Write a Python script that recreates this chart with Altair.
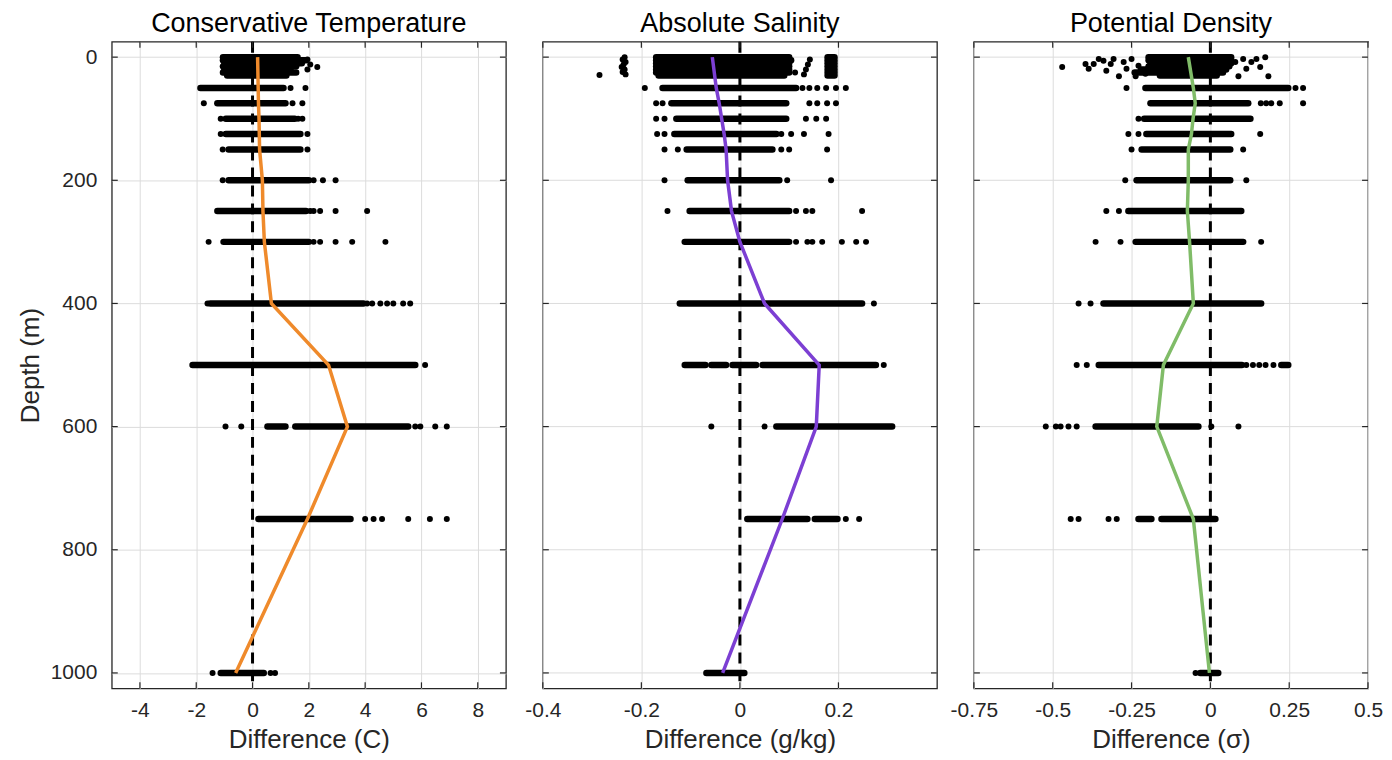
import altair as alt
import pandas as pd

FONT = "Liberation Sans"
TEXT = "#262626"
GRID = "#DCDCDC"
W, H = 395, 648

DEPTH_TICKS = [0, 200, 400, 600, 800, 1000]
DEPTH_DOMAIN = [-25, 1025]
PROFILE_DEPTH = [0, 50, 75, 100, 125, 150, 200, 250, 300, 400, 500, 600, 750, 1000]

# ---------------- Conservative Temperature ----------------
T_TITLE = "Conservative Temperature"
T_XLABEL = "Difference (C)"
T_DOMAIN = [-5, 9]
T_TICKS = [-4, -2, 0, 2, 4, 6, 8]
T_COLOR = "#EF8A2B"
T_MEAN = [0.18, 0.2, 0.21, 0.23, 0.24, 0.25, 0.35, 0.37, 0.42, 0.67, 2.7, 3.37, 1.95, -0.6]
# dense runs of samples: (depth, from, to)
T_SEG = [
    (0, -1.05, 1.6), (5, -1.05, 1.9), (10, -1.0, 1.75), (15, -1.05, 1.55),
    (20, -1.0, 1.35), (25, -1.05, 1.55), (30, -0.9, 1.2),
    (50, -1.85, 1.1), (75, -1.25, 1.17), (100, -0.95, 1.5), (125, -0.95, 1.7),
    (150, -0.85, 1.7), (200, -0.85, 2.0), (250, -1.25, 1.9), (300, -1.03, 2.0),
    (400, -1.5, 3.94), (500, -2.13, 5.78), (600, 0.53, 1.17), (600, 1.52, 5.53),
    (750, 0.21, 3.48), (1000, -1.13, 0.4),
]
# isolated samples: (depth, value)
T_PTS = [
    (16, 2.3), (12, 2.05), (20, 1.95), (4, 1.95),
    (50, 1.35), (50, 1.88),
    (75, -1.73), (75, 1.42), (75, 1.77),
    (100, -1.13), (100, 1.62), (100, 1.77),
    (125, -1.13), (125, 1.95),
    (150, -1.06), (150, 1.95),
    (200, -1.06), (200, 2.17), (200, 2.5), (200, 2.95),
    (250, 2.05), (250, 2.17), (250, 2.4), (250, 2.95), (250, 4.07),
    (300, -1.56), (300, 2.17), (300, 2.4), (300, 2.95), (300, 3.54), (300, 4.72),
    (400, -1.6), (400, 4.07), (400, 4.25), (400, 4.54), (400, 4.78), (400, 5.0),
    (400, 5.35), (400, 5.6),
    (500, 6.13),
    (600, -0.96), (600, -0.4), (600, 5.78), (600, 5.96), (600, 6.49), (600, 6.9),
    (750, 4.0), (750, 4.3), (750, 4.6), (750, 5.53), (750, 6.3), (750, 6.9),
    (1000, -1.42), (1000, 0.64), (1000, 0.8),
]

# ---------------- Absolute Salinity ----------------
S_TITLE = "Absolute Salinity"
S_XLABEL = "Difference (g/kg)"
S_DOMAIN = [-0.4, 0.4]
S_TICKS = [-0.4, -0.2, 0, 0.2]
S_COLOR = "#7C3FD3"
S_MEAN = [-0.056, -0.048, -0.042, -0.037, -0.032, -0.028, -0.025, -0.017, 0.0, 0.05,
          0.161, 0.155, 0.086, -0.035]
S_SEG = [
    (0, -0.17, 0.1), (5, -0.17, 0.104), (10, -0.17, 0.1), (15, -0.17, 0.1),
    (20, -0.17, 0.1), (25, -0.17, 0.1), (30, -0.165, 0.09),
    (0, 0.178, 0.192), (5, 0.178, 0.192), (10, 0.178, 0.192), (15, 0.178, 0.192),
    (20, 0.178, 0.192), (25, 0.178, 0.192), (30, 0.178, 0.192),
    (50, -0.157, 0.114), (75, -0.139, 0.094), (100, -0.129, 0.094), (125, -0.133, 0.074),
    (150, -0.108, 0.066), (200, -0.106, 0.08), (250, -0.102, 0.1), (300, -0.112, 0.1),
    (400, -0.122, 0.248), (500, -0.112, -0.07), (500, -0.058, -0.028),
    (500, -0.015, 0.033), (500, 0.046, 0.276), (600, 0.074, 0.309),
    (750, 0.015, 0.137), (750, 0.152, 0.198), (1000, -0.068, 0.009),
]
S_PTS = [
    (29, -0.285), (0, -0.234), (4, -0.238), (8, -0.232), (12, -0.236), (16, -0.24),
    (20, -0.234), (24, -0.238), (28, -0.232),
    (25, 0.112), (28, 0.13), (20, 0.134), (12, 0.138), (4, 0.142),
    (50, -0.193), (50, 0.127), (50, 0.141), (50, 0.157), (50, 0.175), (50, 0.195), (50, 0.215),
    (75, -0.17), (75, -0.157), (75, 0.141), (75, 0.157), (75, 0.177), (75, 0.195),
    (100, -0.17), (100, -0.153), (100, 0.134), (100, 0.155), (100, 0.175),
    (125, -0.168), (125, -0.153), (125, 0.084), (125, 0.104), (125, 0.13), (125, 0.18),
    (150, -0.153), (150, -0.126), (150, 0.084), (150, 0.1), (150, 0.177),
    (200, -0.153), (200, 0.096), (200, 0.185),
    (250, -0.147), (250, 0.114), (250, 0.134), (250, 0.147), (250, 0.248),
    (300, 0.114), (300, 0.137), (300, 0.147), (300, 0.167), (300, 0.207), (300, 0.236),
    (300, 0.256),
    (400, 0.272),
    (500, 0.292),
    (600, -0.058), (600, 0.05),
    (750, 0.215), (750, 0.242),
]

# ---------------- Potential Density ----------------
D_TITLE = "Potential Density"
D_XLABEL = "Difference (\u03c3)"
D_DOMAIN = [-0.75, 0.5]
D_TICKS = [-0.75, -0.5, -0.25, 0, 0.25, 0.5]
D_COLOR = "#80BC68"
D_MEAN = [-0.07, -0.054, -0.048, -0.055, -0.06, -0.07, -0.07, -0.073, -0.066, -0.054,
          -0.149, -0.17, -0.054, -0.003]
D_SEG = [
    (0, -0.196, 0.066), (5, -0.196, 0.066), (10, -0.19, 0.066), (15, -0.196, 0.06),
    (20, -0.22, 0.05), (25, -0.24, 0.04), (30, -0.16, 0.02),
    (50, -0.206, 0.247), (75, -0.19, 0.12), (100, -0.21, 0.127), (125, -0.203, 0.066),
    (150, -0.218, 0.063), (200, -0.234, 0.063), (250, -0.26, 0.098), (300, -0.237, 0.104),
    (400, -0.339, 0.161), (500, -0.354, 0.1), (500, 0.225, 0.247), (600, -0.364, -0.038),
    (750, -0.228, -0.187), (750, -0.155, 0.016), (1000, -0.032, 0.025),
]
D_PTS = [
    (16, -0.47), (11, -0.396), (19, -0.386), (11, -0.37), (3, -0.354), (6, -0.339),
    (22, -0.33), (11, -0.316), (3, -0.307), (31, -0.29), (8, -0.275), (19, -0.266),
    (3, -0.25), (31, -0.237), (14, -0.228), (27, -0.206),
    (8, 0.079), (31, 0.089), (3, 0.104), (19, 0.114), (8, 0.13), (3, 0.146), (16, 0.158),
    (0, 0.174), (31, 0.184),
    (50, -0.266), (50, 0.27), (50, 0.294),
    (75, 0.16), (75, 0.177), (75, 0.193), (75, 0.22), (75, 0.294),
    (100, -0.228),
    (125, -0.26), (125, -0.228), (125, 0.158),
    (150, -0.25), (150, 0.104),
    (200, -0.27), (200, 0.114),
    (250, -0.33), (250, -0.29),
    (300, -0.364), (300, -0.285), (300, 0.161),
    (400, -0.418), (400, -0.38),
    (500, -0.424), (500, -0.392), (500, 0.114), (500, 0.135), (500, 0.155), (500, 0.175),
    (500, 0.2),
    (600, -0.522), (600, -0.49), (600, -0.475), (600, -0.45), (600, -0.424), (600, 0.003),
    (600, 0.089),
    (750, -0.443), (750, -0.418), (750, -0.323), (750, -0.297),
    (1000, -0.047),
]


def panel(title, xlabel, domain, ticks, seg, pts, mean, color, first):
    xs = alt.Scale(domain=domain, nice=False, zero=False)
    ys = alt.Scale(domain=DEPTH_DOMAIN, nice=False, zero=False, reverse=True)
    xaxis = alt.Axis(values=ticks, title=xlabel, grid=True, ticks=False, domain=False,
                     labelFlush=False, labelOverlap=False, labelExpr="'' + datum.value",
                     labelPadding=11, titlePadding=6)
    if first:
        yaxis = alt.Axis(values=DEPTH_TICKS, title="Depth (m)", grid=True, ticks=False,
                         domain=False, labelPadding=15, titlePadding=7,
                         labelExpr="'' + datum.value")
    else:
        yaxis = None

    def X(f):
        return alt.X(f, type="quantitative", scale=xs, axis=xaxis)

    def Y(f):
        return alt.Y(f, type="quantitative", scale=ys, axis=yaxis)

    seg_df = pd.DataFrame(seg, columns=["depth", "x1", "x2"])
    pts_df = pd.DataFrame(pts, columns=["depth", "x"])
    mean_df = pd.DataFrame({"depth": PROFILE_DEPTH, "x": mean})
    zero_df = pd.DataFrame({"x": [0]})
    xt_df = pd.DataFrame({"x": ticks})
    yt_df = pd.DataFrame({"depth": DEPTH_TICKS})

    layers = []
    if not first:
        layers.append(alt.Chart(yt_df).mark_rule(color=GRID, strokeWidth=1).encode(
            y=Y("depth")))
    segs = alt.Chart(seg_df).mark_rule(strokeWidth=6.5, strokeCap="round", color="black").encode(
        x=X("x1"), x2="x2", y=Y("depth"))
    dots = alt.Chart(pts_df).mark_circle(size=36, color="black", opacity=1).encode(
        x=X("x"), y=Y("depth"))
    zero = alt.Chart(zero_df).mark_rule(strokeDash=[11, 7], strokeWidth=3, color="black").encode(
        x=X("x"))
    line = alt.Chart(mean_df).mark_line(strokeWidth=3.5, color=color).encode(
        x=X("x"), y=Y("depth"), order="depth:Q")
    xt_bot = alt.Chart(xt_df).mark_rule(color=TEXT, strokeWidth=1.2).encode(
        x=X("x"), y=alt.value(H), y2=alt.value(H - 6))
    xt_top = alt.Chart(xt_df).mark_rule(color=TEXT, strokeWidth=1.2).encode(
        x=X("x"), y=alt.value(0), y2=alt.value(6))
    yt_l = alt.Chart(yt_df).mark_rule(color=TEXT, strokeWidth=1.2).encode(
        y=Y("depth"), x=alt.value(0), x2=alt.value(6))
    yt_r = alt.Chart(yt_df).mark_rule(color=TEXT, strokeWidth=1.2).encode(
        y=Y("depth"), x=alt.value(W - 6), x2=alt.value(W))
    layers += [segs, dots, zero, line, xt_bot, xt_top, yt_l, yt_r]

    return alt.layer(*layers).properties(
        width=W, height=H,
        title=alt.Title(title, fontSize=27, fontWeight="normal", font=FONT, color="black",
                        offset=2, anchor="middle"))


p1 = panel(T_TITLE, T_XLABEL, T_DOMAIN, T_TICKS, T_SEG, T_PTS, T_MEAN, T_COLOR, True)
p2 = panel(S_TITLE, S_XLABEL, S_DOMAIN, S_TICKS, S_SEG, S_PTS, S_MEAN, S_COLOR, False)
p3 = panel(D_TITLE, D_XLABEL, D_DOMAIN, D_TICKS, D_SEG, D_PTS, D_MEAN, D_COLOR, False)

chart = alt.hconcat(p1, p2, p3, spacing=37, bounds="flush").properties(
    padding={"left": 8, "top": 0, "right": 0, "bottom": 0}
).configure_view(
    stroke=TEXT, strokeWidth=1.3
).configure_axis(
    labelFont=FONT, titleFont=FONT, labelFontSize=21, titleFontSize=26,
    labelColor=TEXT, titleColor=TEXT, titleFontWeight="normal",
    gridColor=GRID, gridWidth=1, gridOpacity=1
)

chart.save("out.html", embed_options={"renderer": "svg", "actions": False})
